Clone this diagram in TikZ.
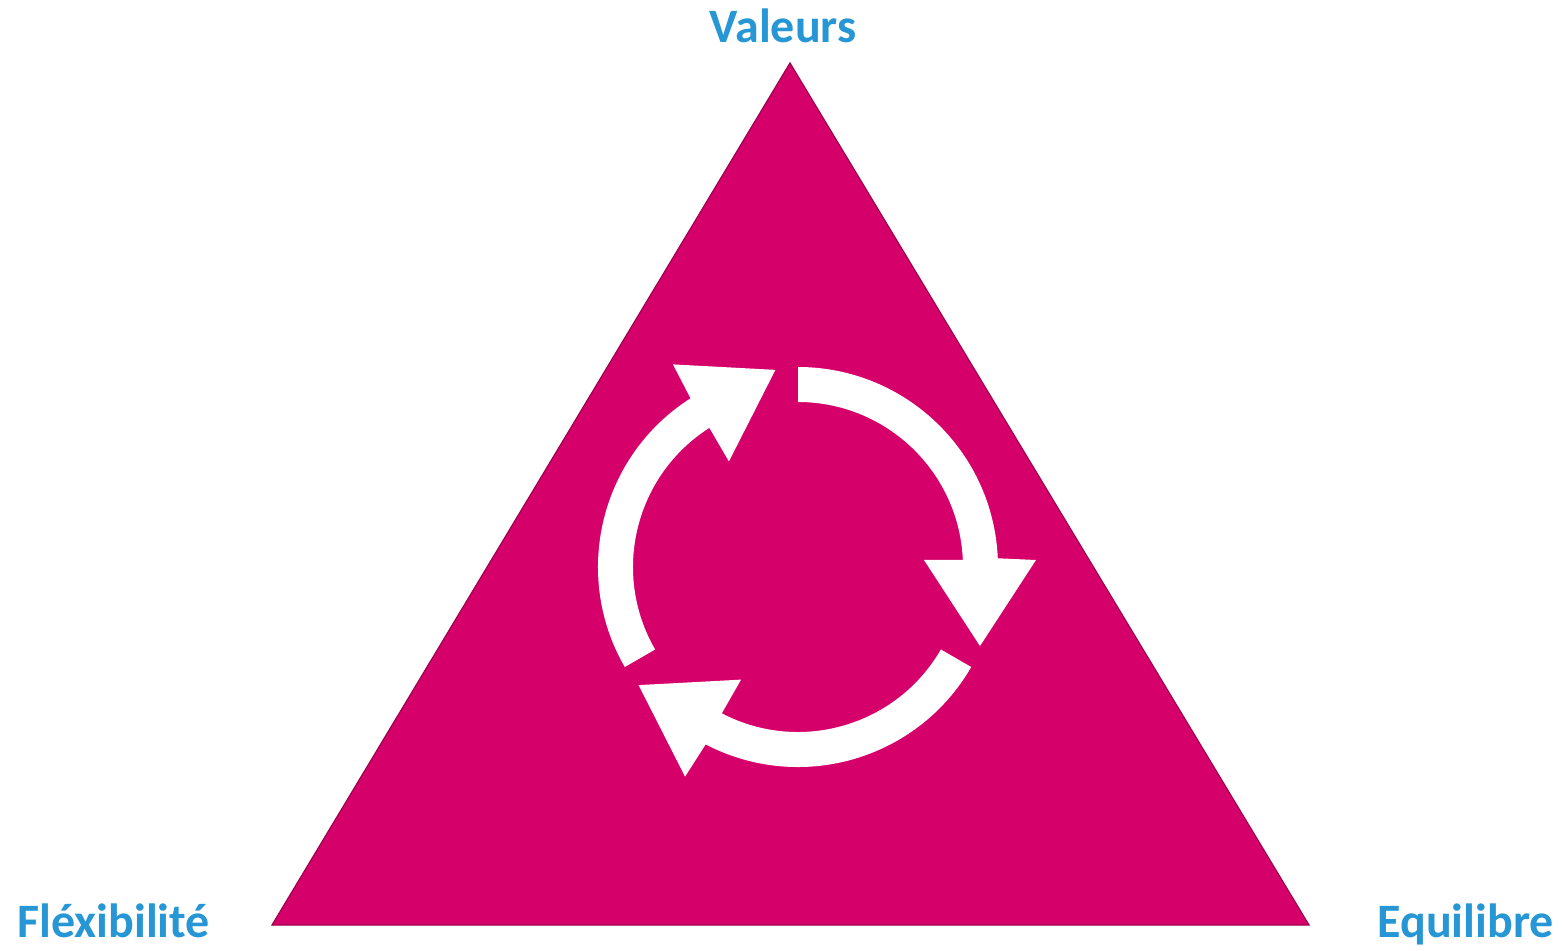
\documentclass[tikz,border=0pt]{standalone}
\usepackage{fontspec}
\setmainfont{Carlito}
\usepackage[svgnames]{xcolor}
\usetikzlibrary{positioning}
\definecolor{mymagenta}{RGB}{214,0,106}
\definecolor{myedge}{RGB}{160,0,80}
\definecolor{myblue}{RGB}{38,150,212}
\def\mylabel{\fontsize{24}{28}\selectfont\bfseries}

\begin{document}
\begin{tikzpicture}[x=0.5pt,y=0.5pt,scale=1.]
\useasboundingbox (0,0) rectangle (1565,950);
\coordinate (apex) at (790,887);
\coordinate (left) at (272,25);
\coordinate (right) at (1309,25);
\coordinate (centre) at (798,383);
\fill [mymagenta, draw=myedge, line width =0.6pt, line join=miter] (apex) -- (right) -- (left) -- cycle;
% three turning arrows
\foreach \k in {0,1,2}
{
\begin{scope}[shift={(centre)}, rotate=-120*\k]
\fill [white] (90:200) arc [start angle=90, end angle=2.5, radius=200] -- (238,7) -- (182,-79) -- (126,7) -- (2.5:165) arc [start angle=2.5, end angle=90, radius=165] -- cycle;
\end{scope}
}
\node [anchor=base, myblue, inner sep=0pt] (valeurs) at (783,907) {\mylabel Valeurs};
\node [anchor=base west, myblue, inner sep=0pt] (flexibilite) at (17,13) {\mylabel Fléxibilité};
\node [anchor=base east, myblue, inner sep=0pt] (equilibre) at (1554,13) {\mylabel Equilibre};
\end{tikzpicture}
\end{document}
